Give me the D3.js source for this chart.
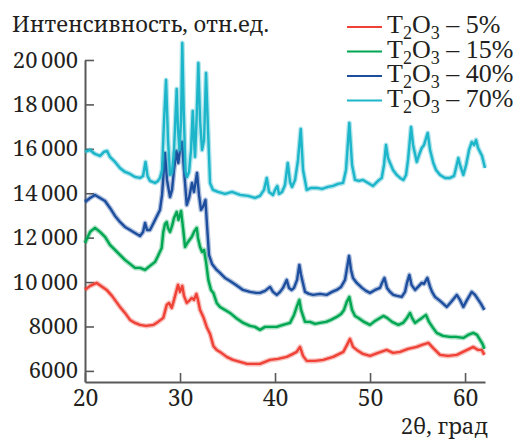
<!DOCTYPE html>
<html lang="ru"><head><meta charset="utf-8">
<script src="https://cdn.jsdelivr.net/npm/d3@7"></script>
<style>
body{margin:0;background:#fff;}
svg{display:block;}
</style></head>
<body><svg id="chart" width="520" height="443"></svg>
<script>
const legendPercents = ["5%","15%","40%","70%"];
const seriesColors = ["#EF4136","#00A651","#1D4E9E","#1CB5C9"];
const xTicks = [20,30,40,50,60];
const yTicks = [6000,8000,10000,12000,14000,16000,18000,20000];
const xLabel = "2θ, град";
const yLabel = "Интенсивность, отн.ед.";

const data5 = [[20.00,9647],[20.53,9827],[21.23,9962],[21.68,9827],[22.28,9647],[22.84,9377],[23.68,8881],[24.21,8611],[24.74,8296],[25.26,8161],[25.79,8071],[26.42,8026],[27.19,8071],[27.68,8206],[28.24,8386],[28.60,8971],[28.84,9061],[29.13,8836],[29.37,9196],[29.65,9647],[29.79,9872],[30.00,9557],[30.24,9827],[30.42,9377],[30.71,9061],[30.95,9151],[31.23,9286],[31.47,9196],[31.72,9467],[31.89,9196],[32.11,8746],[32.45,8431],[32.81,7981],[33.16,7666],[33.51,7126],[33.86,6945],[34.21,6855],[34.92,6630],[35.58,6495],[36.32,6405],[37.05,6315],[37.72,6315],[38.42,6315],[38.95,6405],[39.47,6495],[40.32,6540],[41.23,6630],[41.89,6765],[42.28,6855],[42.63,7080],[42.95,6675],[43.34,6450],[44.21,6450],[45.08,6495],[46.11,6630],[47.19,6855],[47.58,7171],[47.89,7441],[48.21,7080],[48.60,6945],[49.26,6765],[50.00,6675],[50.84,6810],[51.76,6945],[52.42,6810],[53.16,6855],[54.00,6990],[54.92,7080],[55.47,7171],[56.14,7261],[56.63,7035],[57.37,6720],[58.21,6675],[59.13,6720],[60.00,6900],[60.87,7080],[61.37,6945],[61.76,6945],[62.03,6720]];

const data15 = [[20.00,11763],[20.53,12258],[21.05,12438],[21.58,12258],[22.11,12033],[22.63,11673],[23.16,11447],[23.68,11222],[24.21,10997],[24.74,10817],[25.26,10637],[25.79,10637],[26.32,10547],[26.84,10727],[27.37,10907],[27.68,11177],[28.07,11537],[28.24,12258],[28.42,12618],[28.60,12708],[28.74,12438],[28.95,12258],[29.16,12528],[29.37,12888],[29.65,13158],[29.84,12798],[30.11,13203],[30.32,12438],[30.53,11582],[30.84,11808],[31.23,12033],[31.47,12258],[31.76,12438],[31.89,11988],[32.11,11582],[32.32,11357],[32.53,11447],[32.74,10907],[32.98,10097],[33.26,9647],[33.51,9512],[33.86,9061],[34.21,8881],[34.74,8746],[35.26,8611],[35.89,8386],[36.66,8161],[37.37,8026],[37.89,7981],[38.42,7846],[38.95,7981],[39.47,7981],[40.18,7981],[40.84,8071],[41.58,8161],[42.00,8521],[42.32,8926],[42.56,9196],[42.74,8746],[43.16,8206],[43.68,8206],[44.21,8116],[44.74,8161],[45.37,8206],[45.89,8296],[46.49,8431],[46.95,8566],[47.26,8746],[47.55,9106],[47.82,9331],[48.11,8746],[48.42,8476],[48.77,8386],[49.37,8206],[50.00,8071],[50.53,8251],[51.05,8386],[51.40,8476],[51.79,8386],[52.32,8206],[52.98,8071],[53.47,8161],[53.89,8386],[54.21,8611],[54.42,8386],[54.74,8161],[55.16,8296],[55.47,8386],[55.89,8521],[56.21,8206],[56.63,7936],[57.02,7711],[57.68,7576],[58.42,7531],[59.05,7531],[59.82,7486],[60.32,7621],[60.87,7711],[61.26,7621],[61.58,7396],[61.84,7216],[62.03,6990]];

const data40 = [[20.00,13608],[20.53,13788],[21.05,13924],[21.58,13788],[22.11,13653],[22.63,13338],[23.16,12978],[23.68,12708],[24.21,12483],[24.74,12348],[25.26,12213],[25.79,12078],[26.11,12258],[26.32,12663],[26.53,12348],[26.84,12348],[27.16,12618],[27.37,12798],[27.68,13068],[27.89,13248],[28.11,13924],[28.24,14689],[28.42,15814],[28.63,14599],[28.95,13833],[29.16,14149],[29.37,15049],[29.63,15904],[29.82,15364],[30.00,15949],[30.21,16310],[30.42,15049],[30.71,13473],[30.95,13788],[31.26,14464],[31.47,14059],[31.79,14914],[32.00,13924],[32.21,13248],[32.42,13383],[32.68,13698],[32.84,12573],[33.05,11222],[33.37,10817],[33.86,10547],[34.21,10412],[34.74,10187],[35.26,10052],[35.89,9872],[36.63,9647],[37.37,9557],[38.00,9512],[38.42,9512],[38.95,9602],[39.47,9782],[39.79,9557],[40.18,9422],[40.53,9557],[40.84,9737],[41.23,10097],[41.47,9737],[41.76,9647],[42.00,9737],[42.32,10097],[42.56,10772],[42.74,10322],[43.16,9557],[43.58,9467],[44.00,9422],[44.74,9467],[45.44,9422],[46.00,9557],[46.49,9647],[46.95,9782],[47.37,10097],[47.58,10637],[47.79,11177],[48.00,10547],[48.21,10187],[48.60,9962],[49.16,9737],[49.58,9602],[50.00,9512],[50.53,9647],[51.05,9737],[51.26,9962],[51.51,10187],[51.79,9737],[52.11,9557],[52.45,9422],[52.84,9377],[53.34,9331],[53.68,9557],[53.89,9962],[54.14,10322],[54.37,9872],[54.74,9647],[55.05,9782],[55.44,9962],[55.68,9917],[56.03,10187],[56.32,9782],[56.53,9557],[56.84,9331],[57.37,9151],[58.07,8881],[58.53,9106],[59.13,9422],[59.47,9196],[59.82,8881],[60.21,9196],[60.70,9557],[61.05,9422],[61.40,9196],[61.68,9016],[62.03,8746]];

const data70 = [[20.00,15859],[20.53,15949],[21.05,15769],[21.58,15679],[22.00,15859],[22.32,15904],[22.63,15634],[23.16,15409],[23.68,15139],[24.21,14959],[24.74,14869],[25.26,14734],[25.79,14689],[26.11,14779],[26.37,15409],[26.58,14779],[26.84,14554],[27.37,14464],[27.68,14554],[27.89,14689],[28.11,15049],[28.32,17300],[28.53,19101],[28.74,16400],[28.95,14824],[29.16,14959],[29.37,15949],[29.65,18696],[29.79,16850],[29.95,15949],[30.11,17300],[30.24,20767],[30.39,17750],[30.58,14959],[30.74,14734],[30.95,14959],[31.16,15949],[31.34,17705],[31.47,16400],[31.58,15634],[31.74,17300],[31.93,19866],[32.11,17300],[32.32,15949],[32.53,16400],[32.74,19416],[32.95,16850],[33.16,14464],[33.47,14149],[34.00,14059],[34.74,13969],[35.47,14059],[36.32,13924],[37.16,13879],[37.89,13788],[38.42,13879],[38.84,14149],[39.13,14689],[39.37,14059],[39.79,13924],[40.00,14149],[40.24,14329],[40.42,13969],[40.74,14059],[41.05,14374],[41.34,15364],[41.58,14509],[41.79,14284],[42.11,14599],[42.42,15499],[42.71,16895],[42.95,15049],[43.34,14149],[43.79,14239],[44.39,14239],[44.95,14194],[45.58,14284],[46.11,14329],[46.63,14419],[47.16,14464],[47.47,15049],[47.82,17165],[48.11,15274],[48.42,14599],[48.84,14554],[49.26,14599],[49.79,14464],[50.32,14329],[50.84,14554],[51.23,14689],[51.47,15274],[51.68,16175],[51.89,15589],[52.11,15364],[52.42,15049],[52.81,14824],[53.16,14689],[53.51,14599],[53.79,14824],[54.00,15499],[54.32,16985],[54.53,16175],[54.92,15409],[55.16,15724],[55.44,16039],[55.68,16175],[56.07,16715],[56.32,15949],[56.66,15364],[56.95,15049],[57.37,14824],[57.89,14689],[58.42,14689],[58.84,14779],[59.05,15139],[59.29,15589],[59.47,15274],[59.82,14824],[60.11,15274],[60.42,15949],[60.71,16310],[60.95,16175],[61.16,16400],[61.37,16039],[61.58,15859],[61.79,15679],[62.10,15139]];

const allSeries = [data5, data15, data40, data70];
const LEGEND_FONT = "Liberation Serif";
const FONT = "Noto Serif";
const TXT = "#231f20";

const svg = d3.select("#chart");
const x = d3.scaleLinear().domain([20, 62.1]).range([85, 485]);
const y = d3.scaleLinear().domain([5500, 20000]).range([382, 60]);

const fmt = v => {
  const s = String(v);
  return s.length > 4 ? s.slice(0, s.length - 3) + "\u2009" + s.slice(-3) : s;
};

const axisColor = "#58595b";
const gy = svg.append("g").attr("transform","translate(85,0)")
  .call(d3.axisLeft(y).tickValues(yTicks).tickSizeInner(-9).tickSizeOuter(0).tickPadding(7).tickFormat(fmt));
const gx = svg.append("g").attr("transform","translate(0,382)")
  .call(d3.axisBottom(x).tickValues(xTicks).tickSizeInner(-9).tickSizeOuter(0).tickPadding(8));
[gx, gy].forEach(g => {
  g.attr("font-family", FONT);
  g.selectAll(".domain").attr("stroke", axisColor).attr("stroke-width", 2);
  g.selectAll(".tick line").attr("stroke", axisColor).attr("stroke-width", 1.6);
  g.selectAll("text").attr("font-family", FONT).attr("fill", TXT);
});
gy.selectAll("text").attr("font-size", 22);
gx.selectAll("text").attr("font-size", 23);

const line = d3.line().x(d => x(d[0])).y(d => y(d[1]));
allSeries.forEach((s, i) => {
  svg.append("path").datum(s).attr("d", line).attr("fill","none")
    .attr("stroke", seriesColors[i]).attr("stroke-opacity", 0.35).attr("stroke-width", 5).attr("stroke-linejoin","round");
  svg.append("path").datum(s).attr("d", line).attr("fill","none")
    .attr("stroke", seriesColors[i]).attr("stroke-width", 2.4).attr("stroke-linejoin","round");
});

svg.append("text").attr("x", 12).attr("y", 32)
  .attr("font-family", FONT).attr("font-size", 22).attr("fill", TXT).text(yLabel);
svg.append("text").attr("x", 488).attr("y", 434).attr("font-family", FONT).attr("font-size", 22).attr("fill", TXT).attr("text-anchor","end")
  .text(xLabel);

const lg = svg.append("g");
legendPercents.forEach((p, i) => {
  const cy = 27 + i * 24.5;
  lg.append("line").attr("x1", 347).attr("x2", 382).attr("y1", cy).attr("y2", cy)
    .attr("stroke", seriesColors[i]).attr("stroke-width", 2);
  const t = lg.append("text").attr("x", 387).attr("y", cy + 6).attr("font-family", LEGEND_FONT).attr("font-size", 26).attr("fill", TXT);
  t.append("tspan").text("T");
  t.append("tspan").attr("font-size", 18).attr("dy", 6).text("2");
  t.append("tspan").attr("dy", -6).text("O");
  t.append("tspan").attr("font-size", 18).attr("dy", 6).text("3");
  t.append("tspan").attr("dy", -6).text(" – " + p);
});
</script></body></html>
